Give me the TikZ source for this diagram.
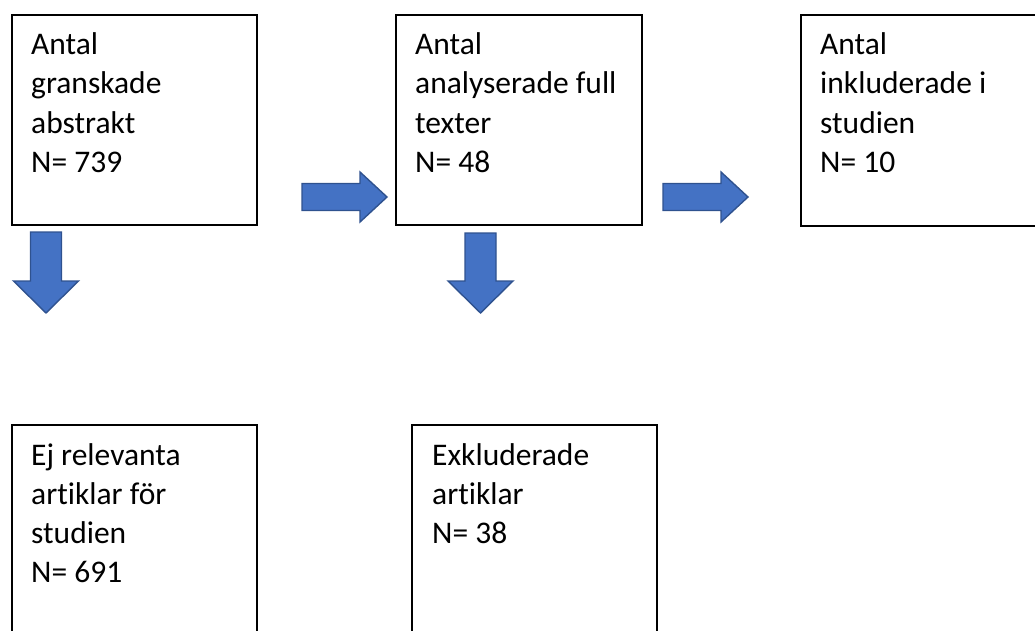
\documentclass[tikz,border=0pt]{standalone}
\usepackage{fontspec}
\setmainfont{Carlito}[Ligatures={NoCommon}]
\definecolor{arrowblue}{HTML}{4472C4}
\definecolor{arrowedge}{HTML}{2F528F}
\begin{document}
\begin{tikzpicture}[x=1pt, y=-1pt,
  box/.style={draw=black, line width=1.6pt, anchor=north west, inner sep=0,
    minimum width=245, minimum height=210},
  txt/.style={anchor=base west, align=left, inner sep=0,
    font=\fontsize{31.5}{39}\selectfont},
  blockarrow/.style={fill=arrowblue, draw=arrowedge, line width=1.4pt, line join=miter}]
\useasboundingbox (0,0) rectangle (1035,631);
\clip (0,0) rectangle (1035,631);

% boxes
\node[box] (abstrakt) at (11,14) {};
\node[box, minimum width=246] (fulltext) at (395,14) {};
\node[box, minimum height=211] (inkl) at (800,14) {};
\node[box] (ejrel) at (11,424) {};
\node[box] (exkl) at (411,424) {};

% texts, placed at the baseline of their last line
\node[txt] (abstrakt-t) at (31,172) {Antal\\granskade\\abstrakt\\N= 739};
\node[txt] (fulltext-t) at (415,172) {Antal\\analyserade full\\texter\\N= 48};
\node[txt] (inkl-t) at (820,172) {Antal\\inkluderade i\\studien\\N= 10};
\node[txt] (ejrel-t) at (31,582) {Ej relevanta\\artiklar för\\studien\\N= 691};
\node[txt] (exkl-t) at (432,543) {Exkluderade\\artiklar\\N= 38};

% arrows right
\foreach \x in {302,663}{
    \draw[blockarrow] (\x,183.5) -- ++(58,0) -- ++(0,-11.5) -- ++(27,25)
      -- ++(-27,25) -- ++(0,-11.5) -- ++(-58,0) -- cycle;
}
% arrows down
\foreach \x/\y in {46/232,480.5/233}{
    \draw[blockarrow] (\x-15.5,\y) -- (\x-15.5,281) -- (\x-32.5,281) -- (\x,313)
      -- (\x+32.5,281) -- (\x+15.5,281) -- (\x+15.5,\y) -- cycle;
}
\end{tikzpicture}
\end{document}
